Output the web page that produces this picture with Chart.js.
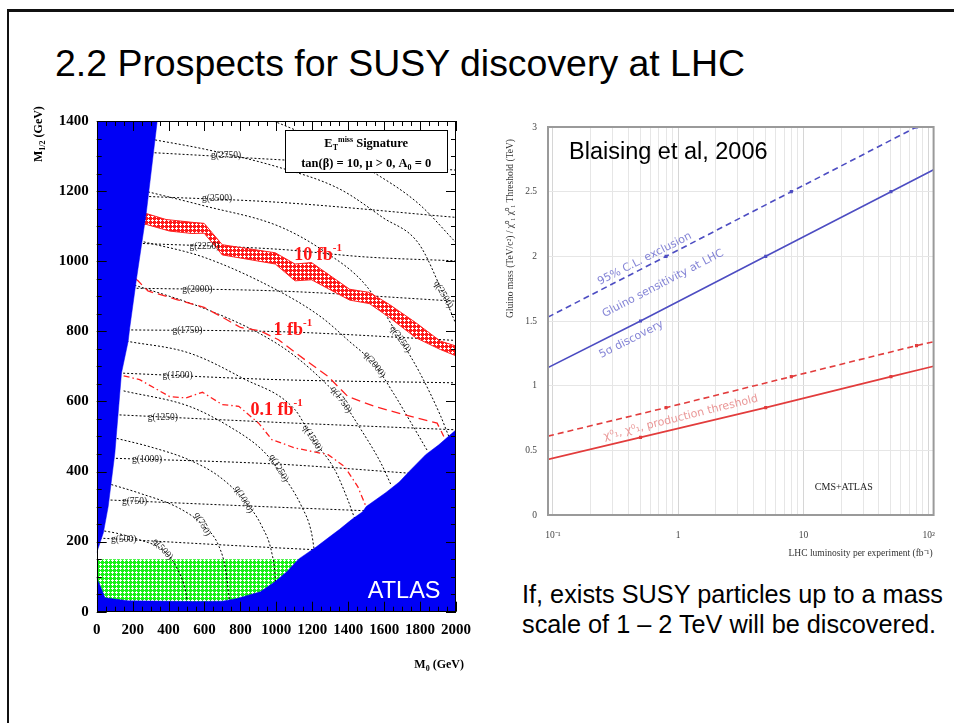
<!DOCTYPE html>
<html>
<head>
<meta charset="utf-8">
<title>2.2 Prospects for SUSY discovery at LHC</title>
<script src="https://cdn.jsdelivr.net/npm/chart.js@4.4.1/dist/chart.umd.min.js"></script>
<style>
  html, body { margin:0; padding:0; background:#fff; width:954px; height:723px; overflow:hidden; }
  #frame { position:absolute; left:7px; top:9px; width:1200px; height:1000px; border-left:2px solid #111; border-top:3px solid #111; }
  #title { position:absolute; left:55px; top:46px; font-family:"Liberation Sans", Arial, sans-serif; font-size:36px; line-height:36px; white-space:nowrap; transform-origin:0 0; color:#000; }
  #note { position:absolute; left:522px; top:579px; font-family:"Liberation Sans", Arial, sans-serif; font-size:25px; line-height:30px; white-space:nowrap; color:#000; transform-origin:0 0; }
  #plane { position:absolute; left:27px; top:95px; width:453px; height:590px; }
  #reach { position:absolute; left:490px; top:100px; width:460px; height:470px; filter:blur(0.45px); }
</style>
</head>
<body>
<div id="frame"></div>
<div id="title">2.2 Prospects for SUSY discovery at LHC</div>
<div id="plane"><canvas id="planeCanvas"></canvas></div>
<div id="reach"><canvas id="reachCanvas"></canvas></div>
<div id="note">If, exists SUSY particles up to a mass<br>scale of 1 – 2 TeV will be discovered.</div>
<script>
// ================= mSUGRA plane (M0, M1/2), ATLAS =================
const m0Ticks  = [0, 200, 400, 600, 800, 1000, 1200, 1400, 1600, 1800, 2000];
const m12Ticks = [0, 200, 400, 600, 800, 1000, 1200, 1400];

// theoretically excluded regions (blue)
const wedgeM0  = [0, 37, 64, 101, 138, 175, 184, 221, 276, 337];
const wedgeM12 = [168, 225, 300, 452, 681, 771, 810, 948, 1138, 1400];
const floorM0  = [0, 15, 46, 175, 543, 700, 782, 911, 994, 1060, 1123, 1223, 1300, 1352, 1417, 1480, 1500, 1610, 1684, 1739, 1831, 1904, 2000];
const floorM12 = [95, 80, 40, 31, 29, 30, 38, 57, 86, 115, 150, 185, 215, 235, 262, 285, 300, 340, 370, 400, 448, 476, 519];

// LEP-excluded strip (green)
const lepM0  = [0, 1150];
const lepM12 = [150, 150];

// 5 sigma reach for 10, 1 and 0.1 fb^-1
const reach10Upper = [[250,1136],[276,1136],[386,1119],[530,1111],[598,1108],[699,1047],[994,1024],[1104,992],[1196,996],[1408,920],[1518,911],[1628,877],[1775,825],[1913,772],[2000,758]];
const reach10Lower = [[250,1105],[276,1105],[405,1086],[530,1079],[598,1080],[699,1018],[994,992],[1104,944],[1196,947],[1408,889],[1518,879],[1628,840],[1775,782],[1913,748],[2000,730]];
const reach1  = [[215,950],[230,944],[285,915],[450,890],[598,868],[700,840],[800,811],[911,801],[1012,776],[1159,719],[1288,671],[1398,614],[1546,586],[1711,562],[1895,538],[1932,500]];
const reach01 = [[150,673],[239,662],[405,614],[497,610],[589,626],[699,591],[791,586],[901,538],[975,491],[1104,467],[1288,448],[1380,414],[1453,357],[1499,300]];

// gluino mass contours
const gluino500  = [[15,210],[1013,182],[1250,176]];
const gluino750  = [[55,319],[1013,298],[1550,287]];
const gluino1000 = [[85,438],[1013,421],[1800,393]];
const gluino1250 = [[105,562],[1013,540],[2000,519]];
const gluino1500 = [[125,681],[1013,662],[2000,653]];
const gluino1750 = [[170,804],[1013,799],[2000,774]];
const gluino2000 = [[200,923],[1013,915],[2000,886]];
const gluino2250 = [[235,1051],[1013,1034],[1500,1012],[2000,1001]];
const gluino2500 = [[270,1185],[1013,1168],[2000,1125]];
const gluino2750 = [[300,1310],[1000,1290],[2000,1260]];
const gluinoContours = [gluino500, gluino750, gluino1000, gluino1250, gluino1500, gluino1750, gluino2000, gluino2250, gluino2500, gluino2750];
const gluinoLabels = ['g(500)', 'g(750)', 'g(1000)', 'g(1250)', 'g(1500)', 'g(1750)', 'g(2000)', 'g(2250)', 'g(2500)', 'g(2750)'];

// squark mass contours
const squark500  = [[20,232],[110,224],[239,205],[368,176],[442,129],[497,53],[505,25]];
const squark750  = [[60,366],[239,338],[460,295],[589,248],[681,186],[718,119],[736,43],[740,25]];
const squark1000 = [[90,497],[300,470],[515,433],[681,386],[819,319],[920,243],[975,167],[994,100],[1000,40]];
const squark1250 = [[150,630],[515,586],[736,529],[920,462],[1013,405],[1141,300],[1196,224],[1215,160]];
const squark1500 = [[165,772],[515,738],[809,667],[1104,576],[1200,495],[1325,405],[1398,319],[1440,260]];
const squark1750 = [[210,932],[600,865],[920,790],[1104,729],[1288,645],[1361,605],[1472,519],[1582,424],[1640,360]];
const squark2000 = [[240,1058],[598,1011],[1013,915],[1251,840],[1398,775],[1546,705],[1656,620],[1760,530],[1840,460]];
const squark2250 = [[285,1198],[598,1158],[1013,1100],[1261,1030],[1500,930],[1691,776],[1800,680],[1913,560],[1960,500]];
const squark2500 = [[325,1346],[598,1320],[1013,1268],[1352,1206],[1591,1125],[1794,1049],[1930,905],[2000,820]];
const squark2750 = [[985,1400],[1131,1368],[1555,1249],[1794,1163],[2000,1053]];
const squarkContours = [squark500, squark750, squark1000, squark1250, squark1500, squark1750, squark2000, squark2250, squark2500, squark2750];
const squarkLabels = ['q(500)', 'q(750)', 'q(1000)', 'q(1250)', 'q(1500)', 'q(1750)', 'q(2000)', 'q(2250)', 'q(2500)'];

// where the contour names sit (M0, M1/2, angle)
const gluinoLabelAt = [[150,205],[211,313],[280,433],[368,555],[450,675],[505,802],[560,920],[600,1042],[670,1178],[720,1302]];
const squarkLabelAt = [[368,178,48],[589,250,62],[819,320,60],[1013,410,60],[1200,495,58],[1361,605,55],[1546,705,52],[1691,778,55],[1930,905,60]];

// ================= gluino reach vs luminosity =================
const lumiMajor     = [0.1, 1, 10, 100];
const lumiMajorText = ['10\u207B\u00B9', '1', '10', '10\u00B2'];
const lumiGrid = [0.1,0.2,0.3,0.4,0.5,0.6,0.7,0.8,0.9,1,2,3,4,5,6,7,8,9,10,20,30,40,50,60,70,80,90,100];
const massTicks = [0, 0.5, 1, 1.5, 2, 2.5, 3];

const exclusionLumi = [0.0913, 0.8, 8, 80, 109.5];
const exclusionMass = [1.53, 2.0, 2.5, 3.0, 3.07];
const discoveryLumi = [0.0913, 0.5, 5, 50, 109.5];
const discoveryMass = [1.14, 1.5, 2.0, 2.5, 2.67];
const thresholdExclLumi = [0.0913, 0.8, 8, 80, 109.5];
const thresholdExclMass = [0.61, 0.83, 1.07, 1.31, 1.34];
const thresholdDiscLumi = [0.0913, 0.5, 5, 50, 109.5];
const thresholdDiscMass = [0.43, 0.60, 0.83, 1.07, 1.15];
const markerOn = [0, 2.2, 2.2, 2.2, 0];

// ---------------- helpers ----------------
const pairs = arr => arr.map(([x, y]) => ({ x, y }));
const zip = (xs, ys) => xs.map((x, i) => ({ x, y: ys[i] }));
const plain = v => String(v);

function makeHatch(color) {
  const c = document.createElement('canvas');
  c.width = 4; c.height = 4;
  const g = c.getContext('2d');
  g.fillStyle = color; g.fillRect(0, 0, 4, 4);
  g.fillStyle = '#ffffff';
  [[1,0],[0,1],[1,1],[2,1],[1,2]].forEach(([i, j]) => g.fillRect(i, j, 1, 1));
  return g.createPattern(c, 'repeat');
}

function richText(ctx, parts, x, y, align) {
  let w = 0;
  parts.forEach(p => { ctx.font = p[1]; w += ctx.measureText(p[0]).width; });
  let cx = align === 'center' ? x - w / 2 : (align === 'right' ? x - w : x);
  ctx.textAlign = 'left';
  parts.forEach(p => {
    ctx.font = p[1];
    ctx.fillText(p[0], cx, y + (p[2] || 0));
    cx += ctx.measureText(p[0]).width;
  });
}

const SERIF = '"Liberation Serif", "Times New Roman", serif';
const SANS = '"Liberation Sans", Arial, sans-serif';

// stretch slide texts to their set widths
function fitWidth(id, target) {
  const el = document.getElementById(id);
  const w = el.getBoundingClientRect().width;
  el.style.transform = 'scaleX(' + (target / w) + ')';
}
fitWidth('title', 690);
fitWidth('note', 421);

// ---------------- left chart ----------------
const contourLine = (pts) => ({
  data: pairs(pts), borderColor: '#000', borderWidth: 1, borderDash: [2, 2],
  pointRadius: 0, fill: false, cubicInterpolationMode: 'monotone', order: 9
});

const planeDatasets = [];
planeDatasets.push({ data: zip(lepM0, lepM12), borderWidth: 0, backgroundColor: makeHatch('#19f019'),
  pointRadius: 0, fill: 'start', order: 12 });
gluinoContours.forEach(c => planeDatasets.push(contourLine(c)));
squarkContours.forEach(c => planeDatasets.push(contourLine(c)));
const lowerIdx = planeDatasets.length;
planeDatasets.push({ data: pairs(reach10Lower), borderColor: '#ff2020', borderWidth: 1, pointRadius: 0, fill: false, order: 7 });
planeDatasets.push({ data: pairs(reach10Upper), borderColor: '#ff2020', borderWidth: 1, pointRadius: 0,
  fill: { target: lowerIdx }, backgroundColor: makeHatch('#ff1a1a'), order: 7 });
planeDatasets.push({ data: pairs(reach1), borderColor: '#ff2020', borderWidth: 1.3, borderDash: [9, 5], pointRadius: 0, fill: false, order: 6 });
planeDatasets.push({ data: pairs(reach01), borderColor: '#ff2020', borderWidth: 1.3, borderDash: [6, 3, 1.5, 3], pointRadius: 0, fill: false, order: 6 });
planeDatasets.push({ data: zip(floorM0, floorM12), borderColor: '#0000f5', borderWidth: 0.5, backgroundColor: '#0000f5',
  pointRadius: 0, fill: 'start', order: 2 });
planeDatasets.push({ data: zip(wedgeM0, wedgeM12), borderColor: '#0000f5', borderWidth: 0.5, backgroundColor: '#0000f5',
  pointRadius: 0, fill: 'end', order: 2 });

const planeDecor = {
  id: 'planeDecor',
  afterDatasetsDraw(chart) {
    const { ctx, chartArea: a, scales: { x, y } } = chart;
    ctx.save();
    // contour names
    ctx.fillStyle = '#222';
    ctx.font = '9.5px ' + SERIF;
    ctx.textAlign = 'center'; ctx.textBaseline = 'middle';
    gluinoLabels.forEach((t, i) => {
      ctx.fillText(t, x.getPixelForValue(gluinoLabelAt[i][0]), y.getPixelForValue(gluinoLabelAt[i][1]));
    });
    squarkLabels.forEach((t, i) => {
      const [m0, m12, ang] = squarkLabelAt[i];
      ctx.save();
      ctx.translate(x.getPixelForValue(m0), y.getPixelForValue(m12));
      ctx.rotate(ang * Math.PI / 180);
      ctx.fillText(t, 0, 0);
      ctx.restore();
    });
    ctx.textBaseline = 'alphabetic';

    // luminosity names
    ctx.fillStyle = '#ff1414';
    [['10 fb', 1100, 1002], ['1 fb', 984, 790], ['0.1 fb', 856, 562]].forEach(([t, m0, m12]) => {
      richText(ctx, [[t, 'bold 18px ' + SERIF], ['-1', 'bold 11px ' + SERIF, -9]],
        x.getPixelForValue(m0), y.getPixelForValue(m12), 'left');
    });

    // ATLAS
    ctx.fillStyle = '#ffffff';
    ctx.font = '23.5px ' + SANS;
    ctx.textAlign = 'left';
    ctx.fillText('ATLAS', x.getPixelForValue(1509), y.getPixelForValue(39));

    // signature box
    const bx0 = x.getPixelForValue(1050), bx1 = x.getPixelForValue(1950);
    const by0 = y.getPixelForValue(1373), by1 = y.getPixelForValue(1253);
    ctx.fillStyle = '#fff';
    ctx.fillRect(bx0, by0, bx1 - bx0, by1 - by0);
    ctx.strokeStyle = '#000'; ctx.lineWidth = 1;
    ctx.strokeRect(Math.round(bx0) + 0.5, Math.round(by0) + 0.5, Math.round(bx1 - bx0), Math.round(by1 - by0));
    ctx.fillStyle = '#000';
    const cx = x.getPixelForValue(1500);
    richText(ctx, [['E', 'bold 12.5px ' + SERIF], ['T', 'bold 8px ' + SERIF, 3], ['miss', 'bold 8px ' + SERIF, -5],
      [' Signature', 'bold 12.5px ' + SERIF]], cx, y.getPixelForValue(1325), 'center');
    richText(ctx, [['tan(\u03B2) = 10, \u03BC > 0, A', 'bold 12.5px ' + SERIF], ['0', 'bold 8px ' + SERIF, 3],
      [' = 0', 'bold 12.5px ' + SERIF]], cx, y.getPixelForValue(1268), 'center');

    // frame and ticks
    ctx.strokeStyle = '#000'; ctx.lineWidth = 1;
    ctx.strokeRect(Math.round(a.left) + 0.5, Math.round(a.top) + 0.5, Math.round(a.width) - 1, Math.round(a.height) - 1);
    ctx.beginPath();
    for (let v = 0; v <= 2000; v += 50) {
      const px = Math.round(x.getPixelForValue(v)) + 0.5;
      const len = v % 200 === 0 ? 10 : 5;
      ctx.moveTo(px, a.bottom); ctx.lineTo(px, a.bottom - len);
      ctx.moveTo(px, a.top); ctx.lineTo(px, a.top + len);
    }
    for (let v = 0; v <= 1400; v += 50) {
      const py = Math.round(y.getPixelForValue(v)) + 0.5;
      const len = v % 200 === 0 ? 10 : 5;
      ctx.moveTo(a.left, py); ctx.lineTo(a.left + len, py);
      ctx.moveTo(a.right, py); ctx.lineTo(a.right - len, py);
    }
    ctx.stroke();

    // axis titles
    ctx.fillStyle = '#000';
    ctx.save();
    ctx.translate(a.left - 55, a.top + 41);
    ctx.rotate(-Math.PI / 2);
    richText(ctx, [['M', 'bold 12px ' + SERIF], ['1/2', 'bold 8px ' + SERIF, 3], [' (GeV)', 'bold 12px ' + SERIF]], 0, 0, 'left');
    ctx.restore();
    richText(ctx, [['M', 'bold 12px ' + SERIF], ['0', 'bold 8px ' + SERIF, 3], [' (GeV)', 'bold 12px ' + SERIF]],
      a.right + 8, a.bottom + 56, 'right');
    ctx.restore();
  }
};

new Chart(document.getElementById('planeCanvas'), {
  type: 'line',
  data: { datasets: planeDatasets },
  options: {
    responsive: true, maintainAspectRatio: false, animation: false, devicePixelRatio: 1, events: [],
    layout: { padding: { left: 9.7, top: 26, right: 21, bottom: 33.3 } },
    plugins: { legend: { display: false }, tooltip: { enabled: false } },
    scales: {
      x: {
        type: 'linear', min: 0, max: 2000,
        afterBuildTicks: s => { s.ticks = m0Ticks.map(v => ({ value: v })); },
        afterFit: s => { s.height = 40; },
        ticks: { autoSkip: false, maxRotation: 0, padding: 9, color: '#000', callback: plain,
          font: { family: SERIF, size: 15, weight: 'bold' } },
        grid: { display: false, drawTicks: false, tickLength: 0 }, border: { display: false }
      },
      y: {
        type: 'linear', min: 0, max: 1400,
        afterBuildTicks: s => { s.ticks = m12Ticks.map(v => ({ value: v })); },
        afterFit: s => { s.width = 60; },
        ticks: { autoSkip: false, padding: 8, color: '#000', callback: plain,
          font: { family: SERIF, size: 15, weight: 'bold' } },
        grid: { display: false, drawTicks: false, tickLength: 0 }, border: { display: false }
      }
    }
  },
  plugins: [planeDecor]
});

// ---------------- right chart ----------------
const BLUE = '#4d4dc2', RED = '#e23c3c';
const reachLine = (xs, ys, color, dash) => ({
  data: zip(xs, ys), borderColor: color, borderWidth: 1.6, borderDash: dash,
  pointRadius: markerOn, pointStyle: 'rect', pointBackgroundColor: color, pointBorderWidth: 0, fill: false
});

const reachDecor = {
  id: 'reachDecor',
  afterDatasetsDraw(chart) {
    const { ctx, chartArea: a, scales: { x, y } } = chart;
    ctx.save();
    ctx.strokeStyle = '#9a9a9a'; ctx.lineWidth = 2;
    ctx.strokeRect(a.left, a.top, a.width, a.height);

    const rotLabel = (t, lx, ly, ang, color) => {
      ctx.save();
      ctx.translate(x.getPixelForValue(lx), y.getPixelForValue(ly));
      ctx.rotate(ang * Math.PI / 180);
      ctx.fillStyle = color;
      ctx.font = '11px "DejaVu Sans", sans-serif';
      ctx.textAlign = 'center'; ctx.textBaseline = 'middle';
      ctx.fillText(t, 0, 0);
      ctx.restore();
    };
    rotLabel('95% C.L. exclusion', 0.54, 1.98, -27, '#8585d6');
    rotLabel('Gluino sensitivity at LHC', 0.757, 1.79, -27.5, '#8585d6');
    rotLabel('5\u03C3 discovery', 0.423, 1.357, -27, '#8585d6');
    rotLabel('\u03C7\u2070\u2081, \u03C7\u2070\u2081, production threshold', 1.05, 0.752, -14, '#ea9898');

    ctx.fillStyle = '#222';
    ctx.font = '10px ' + SERIF;
    ctx.textAlign = 'center'; ctx.textBaseline = 'middle';
    ctx.fillText('CMS+ATLAS', x.getPixelForValue(21), y.getPixelForValue(0.21));

    ctx.fillStyle = '#000';
    ctx.font = '23.5px ' + SANS;
    ctx.textAlign = 'left'; ctx.textBaseline = 'alphabetic';
    ctx.fillText('Blaising et al, 2006', a.left + 21, a.top + 32);

    ctx.fillStyle = '#333';
    ctx.font = '9.5px ' + SERIF;
    ctx.textAlign = 'right';
    ctx.fillText('LHC luminosity per experiment (fb\u207B\u00B9)', a.right - 1, a.bottom + 41);
    ctx.save();
    ctx.translate(a.left - 35, a.top + 191);
    ctx.rotate(-Math.PI / 2);
    ctx.textAlign = 'left';
    ctx.fillText('Gluino mass (TeV/c\u00B2) / \u03C7\u2070\u2081 \u03C7\u2070\u2081 Threshold (TeV)', 0, 0);
    ctx.restore();
    ctx.restore();
  }
};

new Chart(document.getElementById('reachCanvas'), {
  type: 'line',
  data: {
    datasets: [
      reachLine(exclusionLumi, exclusionMass, BLUE, [6, 4]),
      reachLine(discoveryLumi, discoveryMass, BLUE, []),
      reachLine(thresholdExclLumi, thresholdExclMass, RED, [6, 4]),
      reachLine(thresholdDiscLumi, thresholdDiscMass, RED, [])
    ]
  },
  options: {
    responsive: true, maintainAspectRatio: false, animation: false, devicePixelRatio: 1, events: [],
    layout: { padding: { left: 13, top: 27, right: 13, bottom: 25 } },
    plugins: { legend: { display: false }, tooltip: { enabled: false } },
    scales: {
      x: {
        type: 'logarithmic', min: 0.0913, max: 109.5,
        afterBuildTicks: s => { s.ticks = lumiGrid.map(v => ({ value: v })); },
        afterFit: s => { s.height = 30; },
        ticks: {
          autoSkip: false, maxRotation: 0, padding: 15, color: '#444',
          font: { family: SERIF, size: 9.5 },
          callback: v => { const i = lumiMajor.indexOf(v); return i >= 0 ? lumiMajorText[i] : ''; }
        },
        grid: { drawTicks: false, color: c => (c.tick && lumiMajor.includes(c.tick.value)) ? '#d6d6d6' : '#e6e6e6' },
        border: { display: false }
      },
      y: {
        type: 'linear', min: 0, max: 3,
        afterBuildTicks: s => { s.ticks = massTicks.map(v => ({ value: v })); },
        afterFit: s => { s.width = 45; },
        ticks: { autoSkip: false, padding: 11, color: '#444', callback: plain, font: { family: SERIF, size: 9.5 } },
        grid: { drawTicks: false, color: '#e6e6e6' },
        border: { display: false }
      }
    }
  },
  plugins: [reachDecor]
});
</script>
</body>
</html>
